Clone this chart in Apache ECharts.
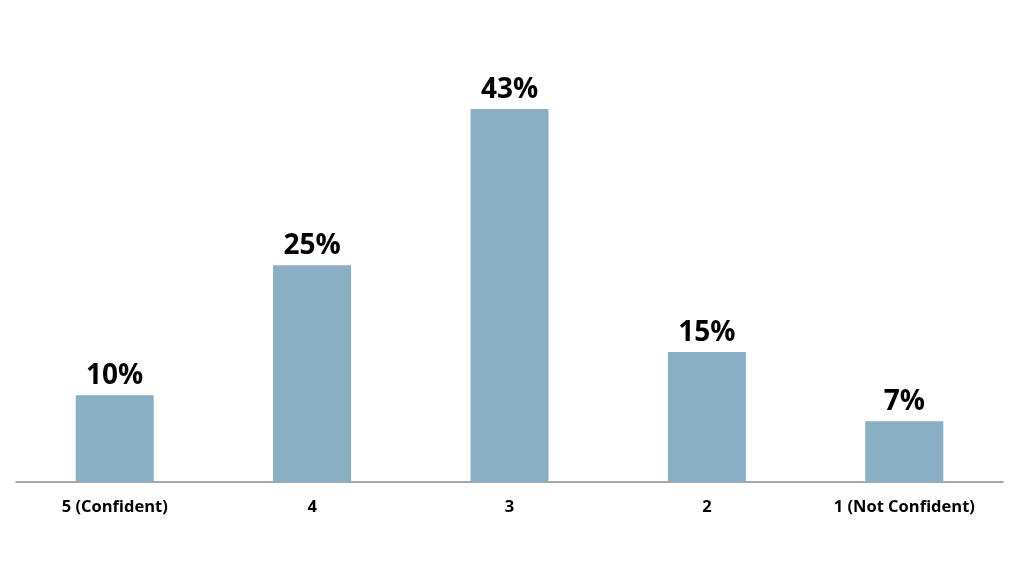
<!DOCTYPE html>
<html><head><meta charset="utf-8">
<script src="https://cdn.jsdelivr.net/npm/echarts@6/dist/echarts.min.js"></script>
<style>html,body{margin:0;padding:0;background:#fff}#c{width:1024px;height:587px}</style>
</head><body><div id="c"></div>
<script>
const categories = ['5 (Confident)', '4', '3', '2', '1 (Not Confident)'];
const values = [10, 25, 43, 15, 7];
const chart = echarts.init(document.getElementById('c'), null, {renderer: 'canvas'});
chart.setOption({
  animation: false,
  grid: {left: 16, right: 21, top: 48.3, bottom: 105, containLabel: false},
  xAxis: {
    type: 'category', data: categories,
    axisLine: {lineStyle: {color: '#8c8c8c', width: 1.5}},
    axisTick: {show: false},
    axisLabel: {color: '#000', fontFamily: 'Open Sans', fontWeight: 'bold', fontSize: 16.5, margin: 17}
  },
  yAxis: {type: 'value', min: 0, max: 50, show: false, splitLine: {show: false}},
  series: [{
    type: 'bar', data: values, barWidth: 78,
    itemStyle: {color: '#8aafc5'},
    label: {show: true, position: 'top', distance: 5, formatter: '{c}%', color: '#000', fontFamily: 'Open Sans', fontWeight: 'bold', fontSize: 28}
  }]
});
</script></body></html>
